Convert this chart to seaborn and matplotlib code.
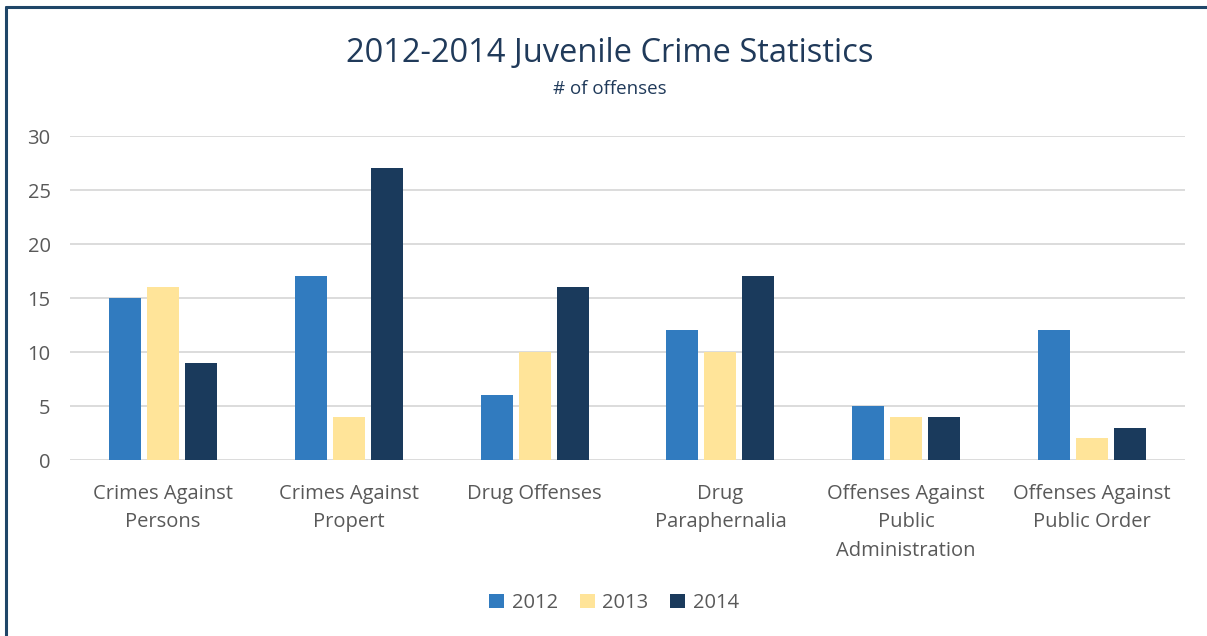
import matplotlib
matplotlib.use("Agg")
import matplotlib.pyplot as plt
import seaborn as sns
import pandas as pd
from matplotlib.lines import Line2D
from matplotlib.patches import Patch

categories = ["Crimes Against\nPersons", "Crimes Against\nPropert", "Drug Offenses",
              "Drug\nParaphernalia", "Offenses Against\nPublic\nAdministration",
              "Offenses Against\nPublic Order"]
years = ["2012", "2013", "2014"]
values_2012 = [15, 17, 6, 12, 5, 12]
values_2013 = [16, 4, 10, 10, 4, 2]
values_2014 = [9, 27, 16, 17, 4, 3]
y_ticks = [0, 5, 10, 15, 20, 25, 30]

colors = ["#317BBF", "#FFE499", "#1A3A5C"]

rows = []
for yr, vals in zip(years, [values_2012, values_2013, values_2014]):
    for c, v in zip(categories, vals):
        rows.append({"category": c, "year": yr, "value": v})
df = pd.DataFrame(rows)

sns.set_theme(style="white")
plt.rcParams['font.family'] = ['Open Sans', 'DejaVu Sans']

fig = plt.figure(figsize=(12.07, 6.36), dpi=100)
ax = fig.add_axes([70/1207, 1 - 460/636, (1185-70)/1207, (460-136)/636])

sns.barplot(data=df, x="category", y="value", hue="year", palette=colors, saturation=1,
            width=0.614, gap=0.16, ax=ax, legend=False, zorder=3, linewidth=0)

ax.set_ylim(0, 30)
ax.set_yticks(y_ticks)
ax.set_xlim(-0.5, len(categories) - 0.5)
ax.yaxis.grid(True, color="#D9D9D9", linewidth=1.3, zorder=0)
ax.set_axisbelow(True)
for s in ax.spines.values():
    s.set_visible(False)
ax.set_xlabel("")
ax.set_ylabel("")
ax.tick_params(axis="y", labelsize=14.5, colors="#595959", length=0, pad=14)
ax.tick_params(axis="x", labelsize=14.5, colors="#595959", length=0, pad=17)
for lbl in ax.get_xticklabels():
    lbl.set_linespacing(1.58)
    lbl.set_va("top")

fig.text(610/1207, 1 - 53/636, "2012-2014 Juvenile Crime Statistics", ha="center", va="center",
         fontsize=23.5, color="#203A5A")
fig.text(610/1207, 1 - 89/636, "# of offenses", ha="center", va="center",
         fontsize=13.5, color="#203A5A")

handles = [Patch(facecolor=c, edgecolor="none") for c in colors]
fig.legend(handles, years, loc="center", bbox_to_anchor=(614/1207, 1 - 603/636), ncol=3,
           frameon=False, fontsize=14.5, labelcolor="#595959", handlelength=0.75, handleheight=0.75,
           handletextpad=0.35, columnspacing=1.1)

# outer border (left and top)
fig.add_artist(Line2D([5.5/1207, 5.5/1207], [0, 1 - 7/636], color="#1F4668", linewidth=2.2,
                      transform=fig.transFigure))
fig.add_artist(Line2D([5.5/1207, 1], [1 - 7/636, 1 - 7/636], color="#1F4668", linewidth=2.2,
                      transform=fig.transFigure))

fig.savefig("out.png", dpi=100, facecolor="white")
